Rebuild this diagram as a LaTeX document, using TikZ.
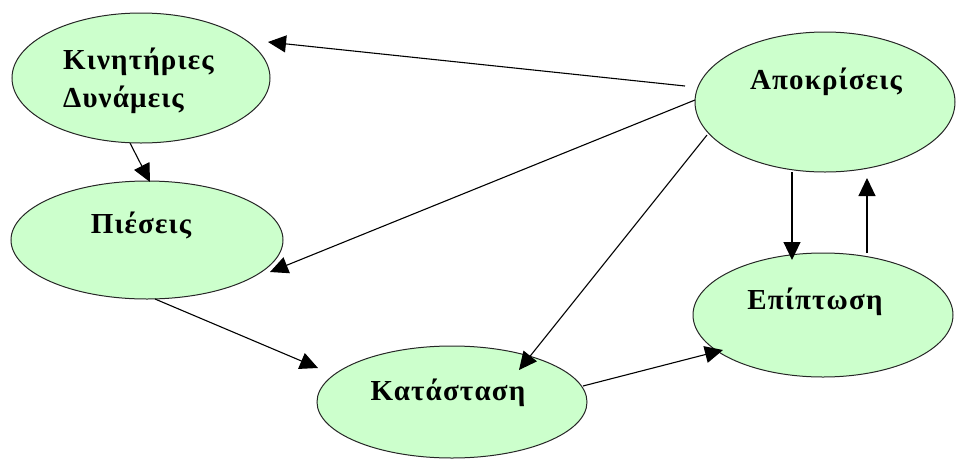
\documentclass[tikz,border=0pt]{standalone}
\usepackage{fontspec}
\setmainfont{Liberation Serif}
\newfontfamily\lblfont[LetterSpace=4]{Liberation Serif}
\usetikzlibrary{shapes.geometric,arrows.meta,calc}
\definecolor{lgreen}{HTML}{CCFFCC}
\tikzset{
  oval/.style={ellipse, draw=black!85, line width=1pt, fill=lgreen, inner sep=0pt},
  lbl/.style={font=\lblfont\fontsize{29}{38}\selectfont\bfseries, text=black, inner sep=0pt},
  arr/.style={-{Triangle[length=18pt,width=17pt]}, line width=1.1pt, black}
}
\begin{document}
\begin{tikzpicture}[x=1pt,y=-1pt]
\useasboundingbox (0,0) rectangle (956,461);
\node[oval, minimum width=258pt, minimum height=130pt] (kin) at (141,78) {};
\node[oval, minimum width=272pt, minimum height=118pt] (pie) at (147,240) {};
\node[oval, minimum width=270pt, minimum height=112pt] (kat) at (452,402) {};
\node[oval, minimum width=260pt, minimum height=140pt] (apo) at (825,102) {};
\node[oval, minimum width=260pt, minimum height=124pt] (epi) at (823,315) {};

\node[lbl, align=left, anchor=west] (tkin) at (63,81) {Κινητήριες\\Δυνάμεις};
\node[lbl] (tpie) at (141,225) {Πιέσεις};
\node[lbl] (tapo) at (826,82) {Αποκρίσεις};
\node[lbl] (tepi) at (815,302) {Επίπτωση};
\node[lbl] (tkat) at (448,393) {Κατάσταση};

\draw[arr] ($(apo.center)+(-140,-16)$) -- ($(kin.center)+(127,-36)$);
\draw[arr] ($(apo.center)+(-130,-2)$) -- ($(pie.center)+(123,32)$);
\draw[arr] ($(apo.center)+(-118,33)$) -- ($(kat.center)+(67,-32)$);
\draw[arr] ($(kin.center)+(-11,65)$) -- ($(pie.center)+(3,-58)$);
\draw[arr] ($(pie.center)+(8,59)$) -- ($(kat.center)+(-134,-34)$);
\draw[arr] ($(kat.center)+(131,-16)$) -- ($(epi.center)+(-100,35)$);
\draw[arr] ($(apo.center)+(-33,70)$) -- ($(epi.center)+(-31,-55)$);
\draw[arr] ($(epi.center)+(44,-62)$) -- ($(apo.center)+(42,76)$);
\end{tikzpicture}
\end{document}
